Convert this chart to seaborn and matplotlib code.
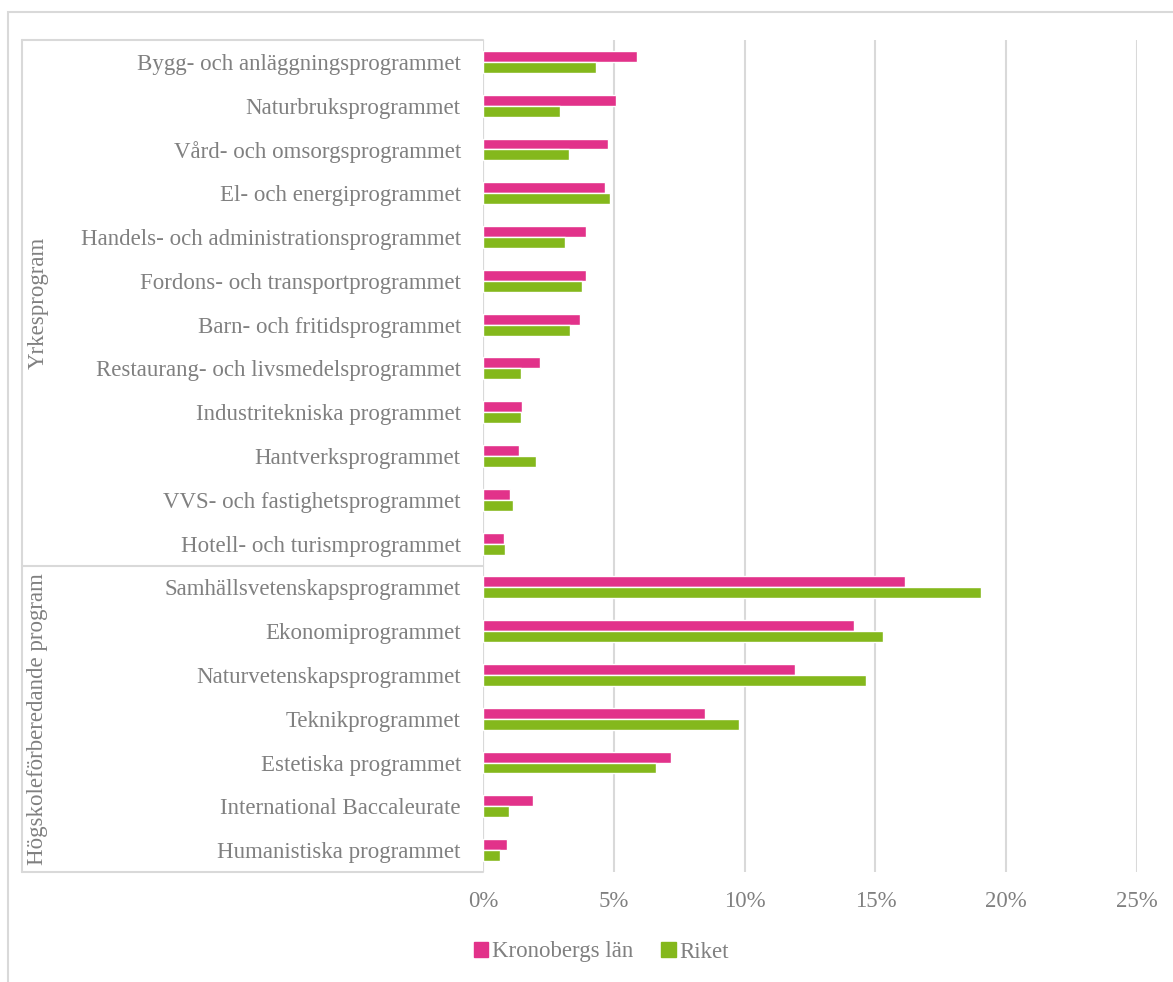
import matplotlib
matplotlib.use("Agg")
import matplotlib.pyplot as plt
import seaborn as sns
import pandas as pd
from matplotlib.patches import Rectangle
from matplotlib.lines import Line2D

categories = [
    "Bygg- och anläggningsprogrammet",
    "Naturbruksprogrammet",
    "Vård- och omsorgsprogrammet",
    "El- och energiprogrammet",
    "Handels- och administrationsprogrammet",
    "Fordons- och transportprogrammet",
    "Barn- och fritidsprogrammet",
    "Restaurang- och livsmedelsprogrammet",
    "Industritekniska programmet",
    "Hantverksprogrammet",
    "VVS- och fastighetsprogrammet",
    "Hotell- och turismprogrammet",
    "Samhällsvetenskapsprogrammet",
    "Ekonomiprogrammet",
    "Naturvetenskapsprogrammet",
    "Teknikprogrammet",
    "Estetiska programmet",
    "International Baccaleurate",
    "Humanistiska programmet",
]
groups = ["Yrkesprogram"] * 12 + ["Högskoleförberedande program"] * 7
kronoberg = [5.89, 5.10, 4.79, 4.65, 3.94, 3.94, 3.70, 2.19, 1.49, 1.37, 1.02, 0.79,
             16.14, 14.20, 11.91, 8.47, 7.18, 1.93, 0.92]
riket = [4.32, 2.96, 3.28, 4.86, 3.12, 3.80, 3.32, 1.47, 1.47, 2.01, 1.13, 0.83,
         19.03, 15.29, 14.65, 9.80, 6.62, 1.01, 0.65]
series_names = ["Kronobergs län", "Riket"]
xticks = [0, 5, 10, 15, 20, 25]
xtick_labels = ["0%", "5%", "10%", "15%", "20%", "25%"]

df = pd.DataFrame({
    "Program": categories * 2,
    "Serie": [series_names[0]] * len(categories) + [series_names[1]] * len(categories),
    "Andel": kronoberg + riket,
})

sns.set_theme(style="white")
plt.rcParams["font.family"] = ["Liberation Serif", "DejaVu Serif"]
text_color = "#808080"
grid_color = "#d9d9d9"
pink = "#e2328a"
green = "#84b81c"
fs = 16.5

W, H = 1173, 982
fig = plt.figure(figsize=(W / 100, H / 100), dpi=100)
ax = fig.add_axes([483 / W, 1 - 872 / H, (1137 - 483) / W, (872 - 40) / H])

sns.barplot(data=df, x="Andel", y="Program", hue="Serie", orient="h",
            palette=[pink, green], saturation=1, width=0.5, gap=0,
            order=categories, hue_order=series_names, ax=ax, legend=True)

ax.set_xlim(0, 25)
ax.set_xticks(xticks)
ax.set_xticklabels(xtick_labels)
ax.set_xlabel("")
ax.set_ylabel("")
for s in ax.spines.values():
    s.set_visible(False)
ax.xaxis.grid(True, color=grid_color, linewidth=1.5)
ax.set_axisbelow(True)
ax.axvline(0, color=grid_color, linewidth=1.5, zorder=0.5)
ax.tick_params(axis="x", length=0, pad=14, labelsize=fs, labelcolor=text_color)
ax.tick_params(axis="y", length=0, pad=16, labelsize=fs, labelcolor=text_color)

# legend
leg = ax.get_legend()
handles = [Rectangle((0, 0), 1, 1, color=pink), Rectangle((0, 0), 1, 1, color=green)]
leg.remove()
fig.legend(handles, series_names, loc="center", bbox_to_anchor=(601 / W, 1 - 952 / H),
           ncol=2, frameon=False, fontsize=fs, labelcolor=text_color,
           handlelength=0.65, handleheight=0.65, handletextpad=0.15, columnspacing=1.2)

# group separators / labels (figure coords)
def fx(px):
    return px / W

def fy(py):
    return 1 - py / H

for py in [40, 566, 872]:
    fig.add_artist(Line2D([fx(22), fx(483)], [fy(py), fy(py)], color=grid_color, linewidth=1.5))
fig.add_artist(Line2D([fx(22), fx(22)], [fy(40), fy(872)], color=grid_color, linewidth=1.5))
fig.text(fx(38), fy(303), "Yrkesprogram", rotation=90, ha="center", va="center",
         fontsize=fs, color=text_color)
fig.text(fx(38), fy(719), "Högskoleförberedande program", rotation=90, ha="center", va="center",
         fontsize=fs, color=text_color)

# outer chart border
fig.add_artist(Rectangle((fx(8), -0.01), 1.0, fy(12) + 0.01, fill=False,
                         edgecolor=grid_color, linewidth=1.5))

fig.savefig("out.png", dpi=100)
